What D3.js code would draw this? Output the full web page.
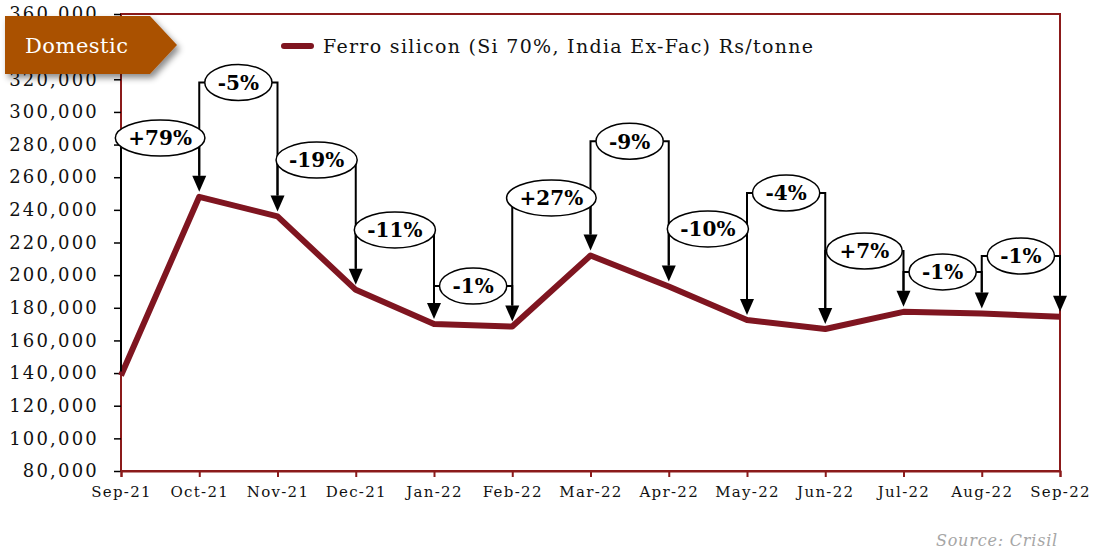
<!DOCTYPE html>
<html>
<head>
<meta charset="utf-8">
<script src="https://cdn.jsdelivr.net/npm/d3@7"></script>
<style>
body { margin: 0; background: #fff; }
svg { display: block; }
</style>
</head>
<body>
<div id="chartContainer"></div>
<script>
// ferro silicon domestic price, monthly, with % change call-outs

var months = ["Sep-21", "Oct-21", "Nov-21", "Dec-21", "Jan-22", "Feb-22", "Mar-22",
	"Apr-22", "May-22", "Jun-22", "Jul-22", "Aug-22", "Sep-22"];

var prices = [138500, 248000, 236000, 191000, 170000, 168500, 212000,
	193000, 172500, 167000, 177500, 176500, 174500];

// month-on-month change labels (between month i and i+1)
var changeLabels = ["+79%", "-5%", "-19%", "-11%", "-1%", "+27%", "-9%",
	"-10%", "-4%", "+7%", "-1%", "-1%"];

// level (Rs/tonne) at which each change bracket sits
var changeLevels = [284000, 318000, 270500, 227700, 193300, 247300, 282000,
	228300, 250300, 214800, 202000, 211700];

var yTicks = [80000, 100000, 120000, 140000, 160000, 180000, 200000, 220000,
	240000, 260000, 280000, 300000, 320000, 340000, 360000];

var seriesName = "Ferro silicon (Si 70%, India Ex-Fac) Rs/tonne";

var svgWidth = 1093, svgHeight = 552;
var margin = {top: 14, right: 33, bottom: 81, left: 121},
	width = svgWidth - margin.left - margin.right,
	height = svgHeight - margin.top - margin.bottom;

var lineColor = "#7f1520";
var frameColor = "#8b1a1a";
var serif = "'DejaVu Serif', 'Liberation Serif', serif";

var svg = d3.select("#chartContainer").append("svg")
	.attr("width", svgWidth)
	.attr("height", svgHeight);

var defs = svg.append("defs");
var shadow = defs.append("filter").attr("id", "bannerShadow")
	.attr("x", "-20%").attr("y", "-20%").attr("width", "150%").attr("height", "160%");
shadow.append("feDropShadow")
	.attr("dx", 3).attr("dy", 4).attr("stdDeviation", 3)
	.attr("flood-color", "#000").attr("flood-opacity", 0.45);

var g = svg.append("g")
	.attr("transform", "translate(" + margin.left + "," + margin.top + ")");

var xScale = d3.scalePoint()
	.domain(months)
	.range([0, width]);

var yScale = d3.scaleLinear()
	.domain([80000, 360000])
	.range([height, 0]);

// frame
g.append("rect")
	.attr("x", 0).attr("y", 0)
	.attr("width", width).attr("height", height)
	.attr("fill", "none")
	.attr("stroke", frameColor)
	.attr("stroke-width", 2);

// y axis (black ticks, no domain line)
var yax = g.append("g")
	.call(d3.axisLeft(yScale)
		.tickValues(yTicks)
		.tickSize(7)
		.tickPadding(15)
		.tickFormat(d3.format(",")));
yax.select(".domain").remove();
yax.selectAll(".tick line").attr("stroke", "#000").attr("stroke-width", 1.5);
yax.selectAll(".tick text")
	.attr("font-family", serif)
	.attr("font-size", "18px")
	.attr("letter-spacing", "2.2px")
	.attr("fill", "#111");

// x axis
var xax = g.append("g")
	.attr("transform", "translate(0," + height + ")")
	.call(d3.axisBottom(xScale).tickSize(6).tickPadding(9));
xax.select(".domain").attr("stroke", frameColor).attr("stroke-width", 2);
xax.selectAll(".tick line").attr("stroke", frameColor).attr("stroke-width", 2);
xax.selectAll(".tick text")
	.attr("font-family", serif)
	.attr("font-size", "15px")
	.attr("letter-spacing", "1.3px")
	.attr("fill", "#111");

// price line
var line = d3.line()
	.x(function(d, i) { return xScale(months[i]); })
	.y(function(d) { return yScale(d); });

g.append("path")
	.datum(prices)
	.attr("d", line)
	.attr("fill", "none")
	.attr("stroke", lineColor)
	.attr("stroke-width", 6)
	.attr("stroke-linejoin", "round");

// change brackets: vertical drop at each end, arrow onto each month after the first
var ann = g.append("g").attr("class", "changes");
var arrowGap = 5, headH = 16, headW = 7;

function arrowBase(i) {
	return yScale(prices[i]) - arrowGap - headH;
}

changeLabels.forEach(function(lbl, i) {
	var x0 = xScale(months[i]), x1 = xScale(months[i + 1]);
	var ly = yScale(changeLevels[i]);
	var leftEnd = (i === 0) ? yScale(prices[0]) - 4 : arrowBase(i);
	ann.append("path")
		.attr("d", "M" + x0 + "," + leftEnd + "V" + ly + "H" + x1 + "V" + arrowBase(i + 1))
		.attr("fill", "none")
		.attr("stroke", "#000")
		.attr("stroke-width", 2);
});

// arrow heads
ann.selectAll("path.head")
	.data(prices.slice(1))
	.enter()
	.append("path")
	.attr("class", "head")
	.attr("d", function(d, i) {
		var x = xScale(months[i + 1]);
		var tip = yScale(d) - arrowGap;
		return "M" + (x - headW) + "," + (tip - headH) + "L" + (x + headW) + "," + (tip - headH) + "L" + x + "," + tip + "Z";
	})
	.attr("fill", "#000");

// ellipse labels
changeLabels.forEach(function(lbl, i) {
	var cx = (xScale(months[i]) + xScale(months[i + 1])) / 2;
	var cy = yScale(changeLevels[i]);
	var eg = ann.append("g");
	var el = eg.append("ellipse").attr("cx", cx).attr("cy", cy)
		.attr("fill", "#fff").attr("stroke", "#000").attr("stroke-width", 1.5);
	var t = eg.append("text")
		.attr("x", cx).attr("y", cy)
		.attr("dy", "0.36em")
		.attr("text-anchor", "middle")
		.attr("font-family", serif)
		.attr("font-weight", "bold")
		.attr("font-size", "20px")
		.attr("fill", "#000")
		.text(lbl);
	var w = t.node().getComputedTextLength();
	el.attr("rx", w / 2 + 13).attr("ry", 18);
});

// legend
svg.append("line")
	.attr("x1", 284).attr("x2", 311)
	.attr("y1", 46).attr("y2", 46)
	.attr("stroke", lineColor)
	.attr("stroke-width", 6)
	.attr("stroke-linecap", "round");
svg.append("text")
	.attr("x", 323).attr("y", 53)
	.attr("font-family", serif)
	.attr("font-size", "19px")
	.attr("textLength", 490)
	.attr("lengthAdjust", "spacing")
	.attr("fill", "#111")
	.text(seriesName);

// "Domestic" banner
svg.append("path")
	.attr("d", "M5,16H150L177,45L150,74H5Z")
	.attr("fill", "#aa5104")
	.attr("filter", "url(#bannerShadow)");
svg.append("text")
	.attr("x", 25).attr("y", 53)
	.attr("font-family", serif)
	.attr("font-size", "21px")
	.attr("letter-spacing", "0.5px")
	.attr("fill", "#fff")
	.text("Domestic");

// source
svg.append("text")
	.attr("x", 1058).attr("y", 546)
	.attr("text-anchor", "end")
	.attr("font-family", serif)
	.attr("font-style", "italic")
	.attr("font-size", "16px")
	.attr("letter-spacing", "0.8px")
	.attr("fill", "#a6a6a6")
	.text("Source: Crisil");
</script>
</body>
</html>
